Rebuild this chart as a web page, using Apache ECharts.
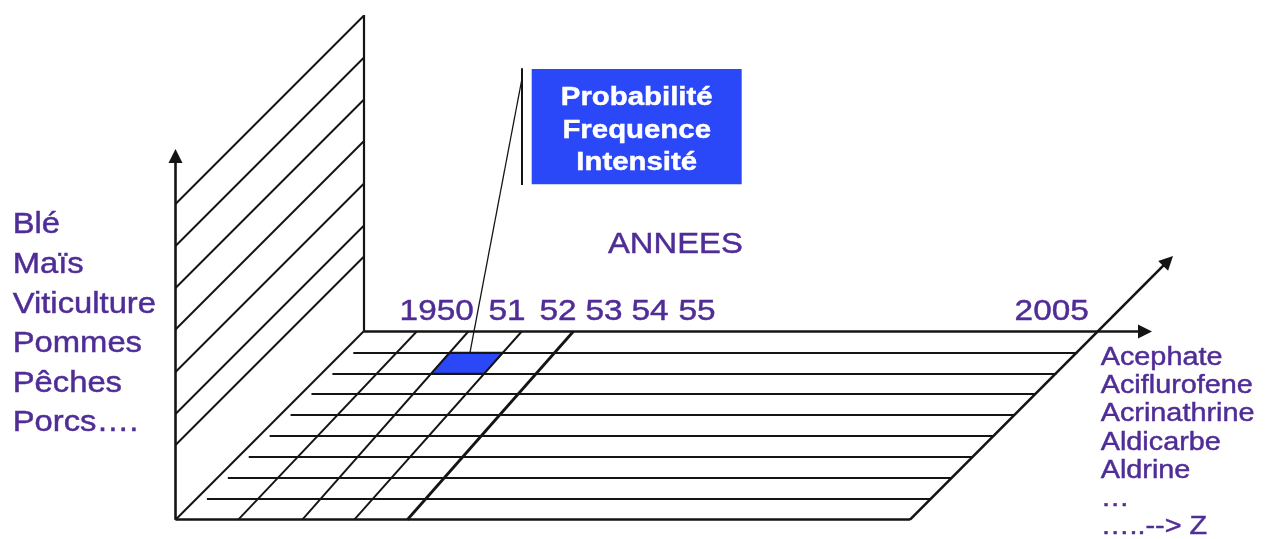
<!DOCTYPE html>
<html><head><meta charset="utf-8">
<script src="https://cdn.jsdelivr.net/npm/echarts@6/dist/echarts.min.js"></script>
<style>html,body{margin:0;padding:0;background:#fff}#c{width:1275px;height:539px}</style>
</head><body><div id="c"></div>
<script>
// ---------------- data ----------------
const crops = ['Blé', 'Maïs', 'Viticulture', 'Pommes', 'Pêches', 'Porcs….'];
const pesticides = ['Acephate', 'Aciflurofene', 'Acrinathrine', 'Aldicarbe', 'Aldrine', '…', '…..--> Z'];
const yearLabels = ['1950', '51', '52', '53', '54', '55', '2005'];
const axisTitle = 'ANNEES';
const boxLines = ['Probabilité', 'Frequence', 'Intensité'];
const floorRowCount = 9;          // depth intervals drawn on the floor
const highlightCol = 1;           // year-line interval of the blue cell
const highlightRow = 1;           // floor row of the blue cell

// ---------------- layout (schematic units of a 1275 x 539 plane) ----------------
const L = {
  axisX: 175.5, frontY: 519.7, backX: 363.5, backY: 331.5, wallTop: 15,
  frontRightX: 910, backArrowTip: 1152, diagTip: [1173, 256], axisTip: 149,
  rowInset: 10.5,
  wallLeftY: [204, 246, 288, 329.5, 372, 414, 445],
  yearBackX: [416.7, 468.3, 521.7, 573.3],
  yearFrontX: [238.3, 302.3, 354.3, 407.3],
  thickYearLine: 3,
  yearLabelX: [436.7, 507, 558, 604, 650, 697, 1051.7], yearBaseline: 322,
  cropX: 12.7, cropBaseline0: 235, cropPitch: 39.6,
  pestX: 1100.7, pestBaseline0: 366, pestPitch: 28.3,
  titleX: 608, titleBaseline: 254.3,
  box: [531.7, 69, 741.7, 184.3], boxBaseline0: 106.7, boxPitch: 32.5,
  pointerX: 521.7, pointerTop: 68.3, pointerBottom: 185, pointerJoinY: 80, pointerFoot: 470
};
const STRETCH = 1.13;
const PURPLE = '#4f2c96';
const BLUE = '#2b48f8';
const INK = '#141414';
const FONT = '"Liberation Sans", Arial, Helvetica, sans-serif';
const ARROW = [13, 14];

// ---------------- geometry helpers ----------------
const rowY = k => L.backY + (L.frontY - L.backY) * k / floorRowCount;
const yearX = (i, y) => L.yearBackX[i] + (L.yearFrontX[i] - L.yearBackX[i]) * (y - L.backY) / (L.frontY - L.backY);
function shorten(from, tip, len) {
  const dx = tip[0] - from[0], dy = tip[1] - from[1], d = Math.hypot(dx, dy);
  return [tip[0] - dx / d * len, tip[1] - dy / d * len];
}

// plain segments
const plain = [];
const seg = (a, b, w) => plain.push({ coords: [a, b], lineStyle: { width: w } });
seg([L.backX, L.backY], [L.backX, L.wallTop], 2.2);                     // back vertical
L.wallLeftY.forEach(y => seg([L.axisX, y], [L.backX, y - (L.backX - L.axisX)], 1.9)); // wall hatch
seg([L.axisX, L.frontY], [L.frontRightX, L.frontY], 2.6);               // front edge
seg([L.axisX, L.frontY], [L.backX, L.backY], 2);                        // floor left edge
for (let k = 1; k < floorRowCount; k++) {
  const y = rowY(k), off = L.frontY - y;
  seg([L.axisX + off + L.rowInset, y], [L.frontRightX + off, y], 1.9);  // floor rows
}
L.yearBackX.forEach((xb, i) => seg([xb, L.backY], [L.yearFrontX[i], L.frontY], i === L.thickYearLine ? 2.8 : 1.9));
seg([L.pointerX, L.pointerTop], [L.pointerX, L.pointerBottom], 2);      // pointer bar
seg([L.pointerFoot, rowY(highlightRow)], [L.pointerX, L.pointerJoinY], 1.3); // pointer

// arrows
const arrows = [
  { coords: [[L.axisX, L.frontY], shorten([L.axisX, L.frontY], [L.axisX, L.axisTip], ARROW[1] / 2)] },
  { coords: [[L.backX, L.backY], shorten([L.backX, L.backY], [L.backArrowTip, L.backY], ARROW[1] / 2)] },
  { coords: [[L.frontRightX, L.frontY], shorten([L.frontRightX, L.frontY], L.diagTip, ARROW[1] / 2)] }
];

// text items (positions derived from layout)
const texts = [];
const addText = (text, x, baseline, fs, weight, color, align) => texts.push({ text, x, baseline, fs, weight, color, align });
crops.forEach((t, i) => addText(t, L.cropX, L.cropBaseline0 + i * L.cropPitch, 29, 'normal', PURPLE, 'left'));
pesticides.forEach((t, i) => addText(t, L.pestX, L.pestBaseline0 + i * L.pestPitch, 25.5, 'normal', PURPLE, 'left'));
yearLabels.forEach((t, i) => addText(t, L.yearLabelX[i], L.yearBaseline, 29.5, 'normal', PURPLE, 'center'));
addText(axisTitle, L.titleX, L.titleBaseline, 29, 'normal', PURPLE, 'left');
boxLines.forEach((t, i) => addText(t, (L.box[0] + L.box[2]) / 2, L.boxBaseline0 + i * L.boxPitch, 26, 'bold', '#ffffff', 'center'));

const chart = echarts.init(document.getElementById('c'), null, { renderer: 'canvas' });
chart.setOption({
  animation: false,
  backgroundColor: '#ffffff',
  grid: { left: 0, right: 0, top: 0, bottom: 0 },
  xAxis: { type: 'value', min: 0, max: 1275, show: false },
  yAxis: { type: 'value', min: 0, max: 539, inverse: true, show: false },
  series: [
    { // blue box
      type: 'custom', z: 1, silent: true, data: [[L.box[0], L.box[1], L.box[2], L.box[3]]],
      renderItem: (p, api) => {
        const a = api.coord([api.value(0), api.value(1)]), b = api.coord([api.value(2), api.value(3)]);
        return { type: 'rect', shape: { x: a[0], y: a[1], width: b[0] - a[0], height: b[1] - a[1] }, style: { fill: BLUE } };
      }
    },
    { // highlighted cell
      type: 'custom', z: 1, silent: true, data: [[highlightCol, highlightRow]],
      renderItem: (p, api) => {
        const c = api.value(0), r = api.value(1);
        const y0 = rowY(r), y1 = rowY(r + 1);
        const pts = [[yearX(c, y0), y0], [yearX(c + 1, y0), y0], [yearX(c + 1, y1), y1], [yearX(c, y1), y1]].map(q => api.coord(q));
        return { type: 'polygon', shape: { points: pts }, style: { fill: BLUE, stroke: INK, lineWidth: 1.3 } };
      }
    },
    {
      type: 'lines', coordinateSystem: 'cartesian2d', z: 2, symbol: 'none',
      lineStyle: { color: INK, width: 1.9, opacity: 1, curveness: 0 }, data: plain, silent: true
    },
    {
      type: 'lines', coordinateSystem: 'cartesian2d', z: 2, symbol: ['none', 'triangle'], symbolSize: ARROW,
      itemStyle: { color: INK }, lineStyle: { color: INK, width: 2.6, opacity: 1 }, data: arrows, silent: true
    },
    {
      type: 'custom', z: 5, silent: true,
      data: texts.map((t, i) => [t.x, t.baseline - 0.33 * t.fs, i]),
      renderItem: (p, api) => {
        const t = texts[api.value(2)];
        const q = api.coord([api.value(0), api.value(1)]);
        return {
          type: 'text', x: q[0], y: q[1], scaleX: STRETCH, scaleY: 1,
          style: {
            text: t.text, fill: t.color, stroke: t.color, lineWidth: 0.45,
            font: `${t.weight} ${t.fs}px ${FONT}`,
            textAlign: t.align, align: t.align, textVerticalAlign: 'middle', verticalAlign: 'middle'
          }
        };
      }
    }
  ]
});
</script></body></html>
